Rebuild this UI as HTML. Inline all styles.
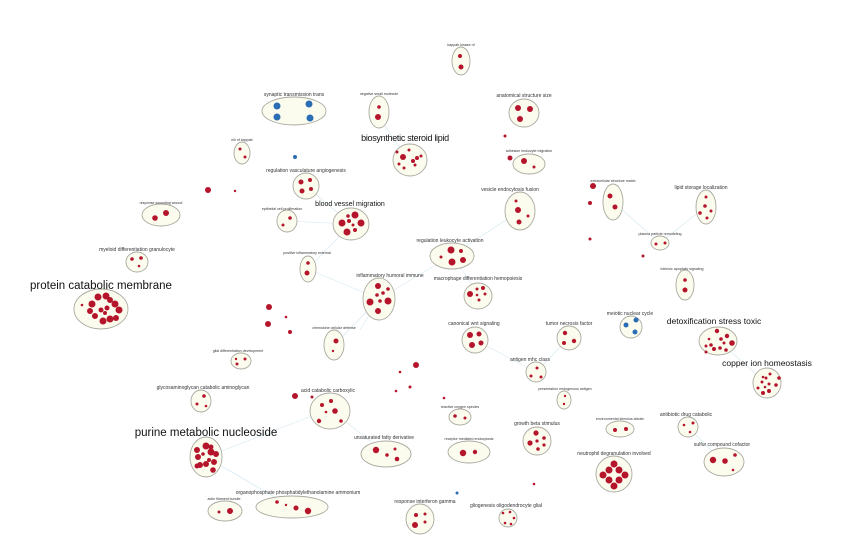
<!DOCTYPE html>
<html><head><meta charset="utf-8"><style>
html,body{margin:0;padding:0;background:#fff;}
svg{display:block;font-family:"Liberation Sans",sans-serif;}
.e{fill:#fcfcee;stroke:#a9a9a0;stroke-width:0.9}
.r{fill:#b5152b}
.b{fill:#2a6db5}
.l{stroke:#d3e8f2;stroke-width:0.6;fill:none}
.t{font-size:5px;fill:#333;text-anchor:middle}
.s{font-size:3.6px;fill:#333;text-anchor:middle}
.m{font-size:7px;fill:#111;text-anchor:middle}
</style></head><body>
<svg width="843" height="545" viewBox="0 0 843 545">
<g class="l">
<path d="M379,117L405,155M306,186L351,224M287,221L351,224M308,269L351,224M308,269L379,299M379,299L334,345M379,299L452,255M452,255L520,211M452,255L478,294M475,340L536,372M569,338L536,372M613,202L660,243M705,207L660,243M718,341L767,383M206,457L330,409M206,457L292,507M206,457L295,509M330,409L386,454M688,427L723,462M379,299L360,330"/>
</g>
<g class="e">
<ellipse cx="461" cy="61" rx="9" ry="14"/>
<ellipse cx="294" cy="111" rx="32" ry="14"/>
<ellipse cx="379" cy="112" rx="10" ry="16"/>
<ellipse cx="524" cy="113" rx="15" ry="14"/>
<ellipse cx="410" cy="160" rx="17" ry="16"/>
<ellipse cx="529" cy="164" rx="16" ry="10"/>
<ellipse cx="242" cy="153" rx="8" ry="11"/>
<ellipse cx="306" cy="186" rx="13" ry="13"/>
<ellipse cx="351" cy="224" rx="18" ry="16"/>
<ellipse cx="287" cy="221" rx="10" ry="11"/>
<ellipse cx="161" cy="215" rx="19" ry="11"/>
<ellipse cx="137" cy="262" rx="11" ry="10"/>
<ellipse cx="101" cy="309" rx="27" ry="20"/>
<ellipse cx="308" cy="269" rx="8" ry="13"/>
<ellipse cx="379" cy="299" rx="16" ry="21"/>
<ellipse cx="334" cy="345" rx="10" ry="15"/>
<ellipse cx="520" cy="211" rx="15" ry="19"/>
<ellipse cx="452" cy="256" rx="22" ry="13"/>
<ellipse cx="478" cy="296" rx="14" ry="13"/>
<ellipse cx="613" cy="202" rx="10" ry="18"/>
<ellipse cx="706" cy="207" rx="10" ry="17"/>
<ellipse cx="660" cy="243" rx="9" ry="7"/>
<ellipse cx="685" cy="285" rx="9" ry="15"/>
<ellipse cx="475" cy="340" rx="13" ry="13"/>
<ellipse cx="569" cy="338" rx="12" ry="12"/>
<ellipse cx="631" cy="327" rx="11" ry="11"/>
<ellipse cx="718" cy="341" rx="19" ry="14"/>
<ellipse cx="767" cy="383" rx="14" ry="15"/>
<ellipse cx="536" cy="372" rx="10" ry="10"/>
<ellipse cx="564" cy="400" rx="7" ry="9"/>
<ellipse cx="460" cy="417" rx="11" ry="8"/>
<ellipse cx="241" cy="361" rx="10" ry="8"/>
<ellipse cx="201" cy="401" rx="10" ry="11"/>
<ellipse cx="330" cy="411" rx="20" ry="18"/>
<ellipse cx="206" cy="457" rx="16" ry="20"/>
<ellipse cx="386" cy="454" rx="25" ry="13"/>
<ellipse cx="469" cy="452" rx="21" ry="11"/>
<ellipse cx="537" cy="441" rx="14" ry="14"/>
<ellipse cx="620" cy="429" rx="14" ry="8"/>
<ellipse cx="688" cy="427" rx="10" ry="10"/>
<ellipse cx="614" cy="474" rx="18" ry="18"/>
<ellipse cx="724" cy="462" rx="20" ry="14"/>
<ellipse cx="292" cy="507" rx="36" ry="11"/>
<ellipse cx="225" cy="511" rx="17" ry="10"/>
<ellipse cx="420" cy="519" rx="14" ry="15"/>
<ellipse cx="508" cy="518" rx="9" ry="9"/>
</g>
<g class="b">
<circle cx="277" cy="106" r="3.5"/><circle cx="309" cy="104" r="3.5"/><circle cx="277" cy="117" r="3.5"/><circle cx="310" cy="118" r="3.5"/>
<circle cx="295" cy="157" r="2"/><circle cx="626" cy="325" r="2.5"/><circle cx="636" cy="320" r="2.5"/><circle cx="635" cy="332" r="2.5"/>
<circle cx="457" cy="493" r="1.5"/>
</g>
<g class="r">
<circle cx="460" cy="56" r="2"/><circle cx="461" cy="67" r="2.5"/>
<circle cx="379" cy="107" r="1.8"/><circle cx="378" cy="117" r="3"/>
<circle cx="518" cy="108" r="3"/><circle cx="530" cy="109" r="3"/><circle cx="520" cy="119" r="3"/>
<circle cx="505" cy="136" r="1.5"/>
<circle cx="510" cy="158" r="2.5"/><circle cx="524" cy="161" r="3"/><circle cx="534" cy="167" r="1.5"/>
<circle cx="403" cy="157" r="3"/><circle cx="413" cy="161" r="2"/><circle cx="417" cy="158" r="2"/><circle cx="409" cy="150" r="1.5"/><circle cx="399" cy="164" r="1.5"/><circle cx="404" cy="168" r="1.5"/><circle cx="415" cy="165" r="1.5"/><circle cx="421" cy="156" r="1.5"/><circle cx="397" cy="152" r="1.5"/>
<circle cx="240" cy="149" r="1.5"/><circle cx="245" cy="157" r="1.5"/>
<circle cx="301" cy="182" r="2.5"/><circle cx="310" cy="180" r="2"/><circle cx="302" cy="191" r="2.5"/><circle cx="311" cy="189" r="2"/>
<circle cx="355" cy="215" r="3.5"/><circle cx="342" cy="223" r="3.5"/><circle cx="361" cy="223" r="3.5"/><circle cx="347" cy="232" r="3.5"/><circle cx="349" cy="221" r="2"/><circle cx="355" cy="230" r="2"/><circle cx="348" cy="216" r="1.8"/><circle cx="353" cy="225" r="1.5"/>
<circle cx="290" cy="218" r="1.8"/><circle cx="283" cy="225" r="1.5"/>
<circle cx="155" cy="218" r="2.8"/><circle cx="166" cy="213" r="3"/>
<circle cx="208" cy="190" r="3"/><circle cx="235" cy="191" r="1.2"/>
<circle cx="132" cy="259" r="1.8"/><circle cx="141" cy="258" r="1.8"/><circle cx="139" cy="266" r="1.3"/>
<circle cx="82" cy="305" r="1.3"/><circle cx="98" cy="297" r="3.5"/><circle cx="106" cy="296" r="3.5"/><circle cx="92" cy="304" r="3.5"/><circle cx="115" cy="304" r="3.5"/><circle cx="119" cy="310" r="3.5"/><circle cx="103" cy="321" r="3.5"/><circle cx="110" cy="319" r="3.5"/><circle cx="95" cy="316" r="3"/><circle cx="116" cy="318" r="3"/><circle cx="101" cy="310" r="2.5"/><circle cx="107" cy="308" r="2.5"/><circle cx="90" cy="311" r="3"/><circle cx="110" cy="300" r="3"/><circle cx="105" cy="313" r="2"/>
<circle cx="308" cy="263" r="1.8"/><circle cx="307" cy="273" r="2.5"/>
<circle cx="378" cy="286" r="3"/><circle cx="370" cy="302" r="3.5"/><circle cx="388" cy="301" r="3.5"/><circle cx="378" cy="311" r="3"/><circle cx="377" cy="295" r="1.8"/><circle cx="383" cy="293" r="1.8"/><circle cx="380" cy="301" r="1.8"/><circle cx="388" cy="289" r="1.8"/>
<circle cx="336" cy="341" r="2.5"/><circle cx="333" cy="351" r="1.2"/>
<circle cx="269" cy="307" r="3"/><circle cx="268" cy="324" r="3"/><circle cx="286" cy="317" r="1.3"/><circle cx="290" cy="332" r="2"/>
<circle cx="516" cy="201" r="1.5"/><circle cx="518" cy="210" r="3"/><circle cx="519" cy="222" r="2.5"/><circle cx="528" cy="216" r="1.5"/>
<circle cx="451" cy="250" r="3.5"/><circle cx="461" cy="251" r="2"/><circle cx="452" cy="262" r="3.5"/><circle cx="463" cy="260" r="3"/><circle cx="441" cy="257" r="1.5"/>
<circle cx="470" cy="294" r="3"/><circle cx="477" cy="289" r="1.5"/><circle cx="483" cy="288" r="2"/><circle cx="485" cy="294" r="1.5"/><circle cx="479" cy="300" r="1.5"/><circle cx="477" cy="295" r="1.3"/>
<circle cx="593" cy="186" r="3"/><circle cx="590" cy="203" r="2"/><circle cx="610" cy="196" r="2.5"/><circle cx="615" cy="207" r="2.5"/><circle cx="590" cy="239" r="1.5"/><circle cx="643" cy="256" r="1.5"/>
<circle cx="706" cy="197" r="1.5"/><circle cx="705" cy="206" r="1.8"/><circle cx="700" cy="213" r="1.8"/><circle cx="711" cy="211" r="1.5"/><circle cx="707" cy="218" r="1.5"/>
<circle cx="656" cy="244" r="1.5"/><circle cx="665" cy="243" r="1.5"/>
<circle cx="685" cy="280" r="1.8"/><circle cx="685" cy="290" r="2.5"/>
<circle cx="470" cy="335" r="3"/><circle cx="479" cy="334" r="2.5"/><circle cx="472" cy="345" r="3"/><circle cx="481" cy="343" r="2.5"/>
<circle cx="565" cy="333" r="2.2"/><circle cx="564" cy="343" r="2"/><circle cx="574" cy="341" r="2.2"/>
<circle cx="717" cy="331" r="2.2"/><circle cx="727" cy="336" r="2.2"/><circle cx="721" cy="339" r="1.8"/><circle cx="711" cy="345" r="1.8"/><circle cx="724" cy="343" r="1.5"/><circle cx="732" cy="343" r="2.8"/><circle cx="706" cy="346" r="1.5"/><circle cx="706" cy="352" r="1.5"/><circle cx="714" cy="349" r="2"/><circle cx="720" cy="348" r="1.8"/><circle cx="726" cy="350" r="1.8"/><circle cx="709" cy="339" r="1.3"/>
<circle cx="770" cy="374" r="1.5"/><circle cx="779" cy="378" r="1.8"/><circle cx="766" cy="378" r="1.5"/><circle cx="762" cy="382" r="1.5"/><circle cx="769" cy="384" r="1.5"/><circle cx="776" cy="385" r="1.8"/><circle cx="758" cy="388" r="1.5"/><circle cx="769" cy="391" r="2"/><circle cx="763" cy="393" r="2"/><circle cx="763" cy="377" r="1.3"/><circle cx="765" cy="387" r="1.3"/>
<circle cx="537" cy="368" r="1.5"/><circle cx="531" cy="376" r="1.5"/><circle cx="541" cy="377" r="1.5"/>
<circle cx="565" cy="396" r="1.2"/><circle cx="564" cy="404" r="1.2"/>
<circle cx="455" cy="416" r="1.8"/><circle cx="465" cy="418" r="1.5"/><circle cx="444" cy="398" r="1.3"/>
<circle cx="236" cy="359" r="1.2"/><circle cx="245" cy="359" r="1.5"/><circle cx="237" cy="364" r="1.5"/>
<circle cx="204" cy="396" r="1.8"/><circle cx="197" cy="404" r="1.5"/><circle cx="206" cy="406" r="1.3"/>
<circle cx="312" cy="397" r="1.5"/><circle cx="295" cy="396" r="3"/><circle cx="322" cy="405" r="2"/><circle cx="331" cy="401" r="2"/><circle cx="335" cy="411" r="2.8"/><circle cx="326" cy="412" r="1.3"/><circle cx="319" cy="421" r="2.2"/><circle cx="341" cy="421" r="1.8"/>
<circle cx="416" cy="365" r="3"/><circle cx="400" cy="372" r="1.3"/><circle cx="410" cy="387" r="1.5"/><circle cx="396" cy="391" r="1.3"/>
<circle cx="206" cy="446" r="3.5"/><circle cx="211" cy="452" r="3.5"/><circle cx="216" cy="454" r="3"/><circle cx="197" cy="450" r="3"/><circle cx="198" cy="457" r="3"/><circle cx="203" cy="454" r="1.8"/><circle cx="209" cy="460" r="2"/><circle cx="214" cy="462" r="3"/><circle cx="200" cy="465" r="3"/><circle cx="206" cy="464" r="3"/><circle cx="197" cy="466" r="2.5"/><circle cx="213" cy="470" r="2.8"/><circle cx="211" cy="447" r="2.5"/>
<circle cx="376" cy="450" r="3.2"/><circle cx="395" cy="449" r="1.5"/><circle cx="387" cy="455" r="1.8"/><circle cx="397" cy="459" r="2.3"/>
<circle cx="463" cy="453" r="3.2"/><circle cx="475" cy="452" r="2.2"/>
<circle cx="536" cy="433" r="2.6"/><circle cx="530" cy="443" r="2.6"/><circle cx="544" cy="438" r="1.8"/><circle cx="537" cy="441" r="1.6"/><circle cx="544" cy="445" r="1.6"/><circle cx="538" cy="449" r="1.8"/>
<circle cx="615" cy="430" r="2"/><circle cx="626" cy="429" r="2"/>
<circle cx="684" cy="425" r="1.3"/><circle cx="693" cy="423" r="1.5"/><circle cx="690" cy="432" r="1.3"/>
<circle cx="614" cy="464" r="3.5"/><circle cx="609" cy="470" r="3.5"/><circle cx="619" cy="470" r="3.5"/><circle cx="603" cy="475" r="3.5"/><circle cx="625" cy="475" r="3.5"/><circle cx="609" cy="480" r="3.5"/><circle cx="619" cy="480" r="3.5"/><circle cx="614" cy="486" r="3.5"/>
<circle cx="713" cy="460" r="3.2"/><circle cx="725" cy="461" r="2.8"/><circle cx="735" cy="455" r="1.8"/><circle cx="733" cy="470" r="1.3"/>
<circle cx="277" cy="502" r="1.8"/><circle cx="286" cy="505" r="1.2"/><circle cx="296" cy="508" r="2.5"/><circle cx="308" cy="511" r="3.2"/>
<circle cx="219" cy="512" r="1.5"/><circle cx="230" cy="511" r="3"/>
<circle cx="416" cy="515" r="2"/><circle cx="415" cy="525" r="3"/><circle cx="425" cy="514" r="1.5"/><circle cx="425" cy="522" r="1.5"/>
<circle cx="503" cy="513" r="1.3"/><circle cx="510" cy="512" r="1.3"/><circle cx="514" cy="518" r="1.3"/><circle cx="505" cy="523" r="1.3"/><circle cx="511" cy="524" r="1.3"/>
<circle cx="534" cy="484" r="1.3"/>
</g>
<text class="s" x="461" y="46">kappab kinase nf</text>
<text class="t" x="294" y="96">synaptic transmission trans</text>
<text class="s" x="379" y="95">negative small molecule</text>
<text class="t" x="524" y="97">anatomical structure size</text>
<text class="m" x="405" y="141" style="font-size:9px;letter-spacing:-0.3px">biosynthetic steroid lipid</text>
<text class="s" x="529" y="152">adhesion leukocyte migration</text>
<text class="s" x="242" y="141">nik nf kappab</text>
<text class="t" x="306" y="172">regulation vasculature angiogenesis</text>
<text class="m" x="350" y="206">blood vessel migration</text>
<text class="s" x="282" y="210">epithelial cell proliferation</text>
<text class="s" x="161" y="204">response wounding wound</text>
<text class="t" x="137" y="251">myeloid differentiation granulocyte</text>
<text class="m" x="101" y="289" style="font-size:11.5px">protein catabolic membrane</text>
<text class="s" x="307" y="254">positive inflammatory external</text>
<text class="t" x="390" y="277">inflammatory humoral immune</text>
<text class="s" x="334" y="329">chemokine cellular defense</text>
<text class="t" x="510" y="191">vesicle endocytosis fusion</text>
<text class="t" x="450" y="242">regulation leukocyte activation</text>
<text class="t" x="478" y="280">macrophage differentiation hemopoiesis</text>
<text class="s" x="613" y="182">extracellular structure matrix</text>
<text class="t" x="701" y="189">lipid storage localization</text>
<text class="s" x="660" y="235">plasma particle remodeling</text>
<text class="s" x="682" y="270">intrinsic apoptotic signaling</text>
<text class="t" x="474" y="325">canonical wnt signaling</text>
<text class="t" x="569" y="325">tumor necrosis factor</text>
<text class="t" x="630" y="315">meiotic nuclear cycle</text>
<text class="m" x="714" y="324" style="font-size:8.5px">detoxification stress toxic</text>
<text class="m" x="767" y="366" style="font-size:8.5px">copper ion homeostasis</text>
<text class="t" x="530" y="361">antigen mhc class</text>
<text class="s" x="565" y="390">presentation endogenous antigen</text>
<text class="s" x="460" y="408">reactive oxygen species</text>
<text class="s" x="238" y="352">glial differentiation development</text>
<text class="t" x="203" y="389">glycosaminoglycan catabolic aminoglycan</text>
<text class="t" x="328" y="392">acid catabolic carboxylic</text>
<text class="m" x="206" y="436" style="font-size:11.5px">purine metabolic nucleoside</text>
<text class="t" x="384" y="439">unsaturated fatty derivative</text>
<text class="s" x="469" y="440">receptor mediated endocytosis</text>
<text class="t" x="537" y="425">growth beta stimulus</text>
<text class="s" x="620" y="420">environmental stimulus abiotic</text>
<text class="t" x="686" y="416">antibiotic drug catabolic</text>
<text class="t" x="614" y="455">neutrophil degranulation involved</text>
<text class="t" x="722" y="446">sulfur compound cofactor</text>
<text class="t" x="298" y="494">organophosphate phosphatidylethanolamine ammonium</text>
<text class="s" x="224" y="500">actin filament bundle</text>
<text class="t" x="425" y="503">response interferon gamma</text>
<text class="t" x="506" y="507">gliogenesis oligodendrocyte glial</text>
</svg>
</body></html>
